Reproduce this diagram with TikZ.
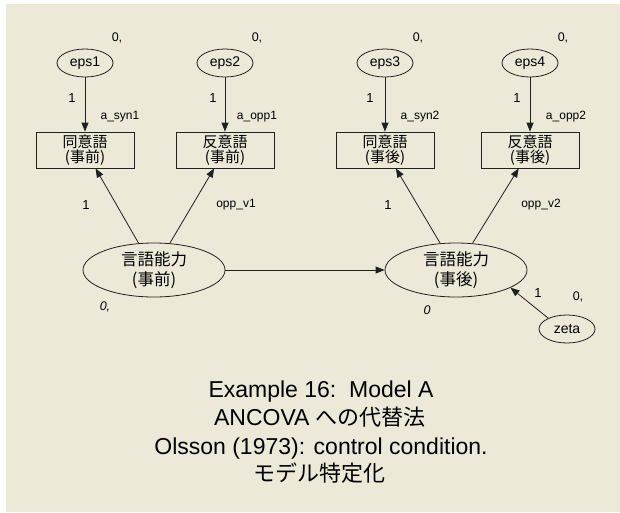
\documentclass[tikz,border=0pt]{standalone}
\usepackage{fontspec}
\setmainfont{Liberation Sans}
\newfontfamily\jp{Noto Sans CJK JP}
\usetikzlibrary{arrows.meta,shapes.geometric}
\definecolor{bg}{HTML}{ECE9D8}
\definecolor{ln}{HTML}{202020}
\begin{document}
\begin{tikzpicture}[x=1pt,y=-1pt,
  lat/.style={ellipse,draw=ln,line width=0.8pt,minimum width=142pt,minimum height=54pt,inner sep=0pt,align=center,font=\jp\fontsize{16.5}{20}\selectfont},
  err/.style={ellipse,draw=ln,line width=0.8pt,minimum width=56pt,minimum height=28pt,inner sep=0pt,font=\fontsize{14}{15}\selectfont},
  obs/.style={rectangle,draw=ln,line width=0.8pt,minimum width=98pt,minimum height=36pt,inner sep=0pt,align=center,font=\jp\fontsize{15}{15}\selectfont},
  arr/.style={draw=ln,line width=0.8pt,-{Triangle[length=9pt,width=7pt]}},
  one/.style={font=\fontsize{13}{15}\selectfont,inner sep=0pt},
  prm/.style={font=\fontsize{12}{13}\selectfont,inner sep=0pt},
  mean/.style={font=\fontsize{12.5}{14}\selectfont,inner sep=0pt},
  captxt/.style={font=\fontsize{23}{25}\selectfont,inner sep=0pt,anchor=base},
  capjp/.style={font=\jp\fontsize{22}{25}\selectfont,inner sep=0pt,anchor=base}
]
\useasboundingbox (0,0) rectangle (620,512);
\fill[white] (0,0) rectangle (620,512);
\fill[bg] (6,4) rectangle (620,512);

% error terms
\node[err] (e1) at (85,63) {eps1};
\node[err] (e2) at (225,63) {eps2};
\node[err] (e3) at (385,63) {eps3};
\node[err] (e4) at (530,63) {eps4};
\node[mean] (m1) at (117,38) {0,};
\node[mean] (m2) at (257,38) {0,};
\node[mean] (m3) at (418,38) {0,};
\node[mean] (m4) at (563,38) {0,};

% observed
\node[obs] (b1) at (85,150) {同意語\\(事前)};
\node[obs] (b2) at (225,150) {反意語\\(事前)};
\node[obs] (b3) at (385,150) {同意語\\(事後)};
\node[obs] (b4) at (530,150) {反意語\\(事後)};

\node[one] (l1) at (72,98) {1};
\node[one] (l2) at (213,98) {1};
\node[one] (l3) at (370,98) {1};
\node[one] (l4) at (517,98) {1};
\node[prm] (p1) at (120,117) {a\_syn1};
\node[prm] (p2) at (257,117) {a\_opp1};
\node[prm] (p3) at (420,117) {a\_syn2};
\node[prm] (p4) at (566,117) {a\_opp2};

\draw[arr] (e1) -- (b1);
\draw[arr] (e2) -- (b2);
\draw[arr] (e3) -- (b3);
\draw[arr] (e4) -- (b4);

% latent
\node[lat] (L) at (154,270) {言語能力\\(事前)};
\node[lat] (R) at (456,270) {言語能力\\(事後)};
\node[err] (z) at (567,329) {zeta};

\draw[arr] (L) -- (b1);
\draw[arr] (L) -- (b2);
\draw[arr] (R) -- (b3);
\draw[arr] (R) -- (b4);
\draw[arr] (L.east) -- (R.west);
\draw[arr] (z.150) -- (R.-18);

\node[one] (k1) at (86,205) {1};
\node[prm] (k2) at (236,205) {opp\_v1};
\node[one] (k3) at (388,205) {1};
\node[prm] (k4) at (541,205) {opp\_v2};
\node[mean] (mL) at (105,307) {\itshape 0,};
\node[mean] (mR) at (427,310) {\itshape 0};
\node[one] (kz) at (538,293) {1};
\node[mean] (mz) at (578,297) {0,};

% caption
\node[captxt] (t1) at (321,397) {Example 16:\ \ Model A};
\node[captxt] (t2) at (320,425) {ANCOVA {\jp\fontsize{22}{25}\selectfont への代替法}};
\node[captxt] (t3) at (321,454) {Olsson (1973): control condition.};
\node[capjp] (t4) at (319,481) {モデル特定化};
\end{tikzpicture}
\end{document}
